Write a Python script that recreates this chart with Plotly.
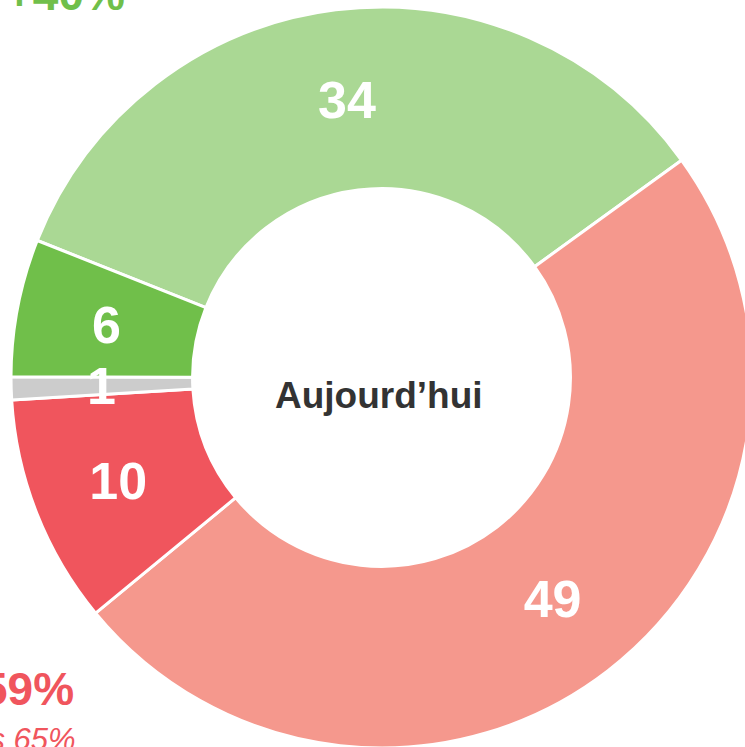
import math
import plotly.graph_objects as go

# Data
categories = ["Vert clair", "Rouge clair", "Rouge", "Gris", "Vert"]
values = [34, 49, 10, 1, 6]
colors = ["#aad894", "#f5988d", "#f0555d", "#cccccc", "#70bf4a"]
center_label = "Aujourd\u2019hui"
top_label = "+40%"
bottom_label = "59%"
bottom_sub_label = "vs 65%"

ROTATION = -68.3
HOLE = 0.51
FONT = "Liberation Sans, Arial, sans-serif"

# Figure slightly larger than the window (page overflow hidden), so the donut can run off the edges
W, H = 752, 748
ML, MT = 11, 7
PW, PH = W - ML, H - MT


def px(x):
    return (x - ML) / PW


def py(y):
    return 1 - (y - MT) / PH


# labels of the thin slices: middle of their arc, mid-ring (same rule the pie uses for wide slices)
R = min(PW, PH) / 2
CX, CY = ML + PW / 2, MT + PH / 2
total = sum(values)
thin = [3, 4]
slice_annotations = []
for i in thin:
    start = sum(values[:i]) / total * 360 + ROTATION
    mid = math.radians(start + values[i] / total * 360 / 2)
    rmid = R * (1 + HOLE) / 2
    slice_annotations.append(dict(
        text=str(values[i]), x=px(CX + rmid * math.sin(mid)), y=py(CY - rmid * math.cos(mid)),
        xref="paper", yref="paper", showarrow=False, xanchor="center", yanchor="middle",
        font=dict(family=FONT, size=52, color="white", weight="bold")))

textpos = ["none" if i in thin else "inside" for i in range(len(values))]

fig = go.Figure(
    go.Pie(
        labels=categories,
        values=values,
        text=[str(v) for v in values],
        textinfo="text",
        textposition=textpos,
        insidetextorientation="horizontal",
        textfont=dict(family=FONT, size=52, color="white", weight="bold"),
        marker=dict(colors=colors, line=dict(color="white", width=3)),
        hole=HOLE,
        sort=False,
        direction="clockwise",
        rotation=ROTATION,
        showlegend=False,
        hoverinfo="label+value",
    )
)

fig.update_layout(
    width=W,
    height=H,
    margin=dict(l=ML, r=0, t=MT, b=0),
    paper_bgcolor="white",
    plot_bgcolor="white",
    uniformtext=dict(mode="show", minsize=52),
    annotations=[
        dict(text=center_label, x=px(378.5), y=py(396), xref="paper", yref="paper",
             showarrow=False, xanchor="center", yanchor="middle",
             font=dict(family=FONT, size=37, color="#333333", weight="bold")),
        dict(text=top_label, x=px(127), y=py(-6), xref="paper", yref="paper",
             showarrow=False, xanchor="right", yanchor="middle",
             font=dict(family=FONT, size=46, color="#70bf4a", weight="bold")),
        dict(text=bottom_label, x=px(76), y=py(689), xref="paper", yref="paper",
             showarrow=False, xanchor="right", yanchor="middle",
             font=dict(family=FONT, size=46, color="#f0555d", weight="bold")),
        dict(text=bottom_sub_label, x=px(78), y=py(739), xref="paper", yref="paper",
             showarrow=False, xanchor="right", yanchor="middle",
             font=dict(family=FONT, size=31, color="#f0555d", style="italic")),
    ] + slice_annotations,
)

fig.write_html(
    "out.html",
    config={"displayModeBar": False},
    post_script="document.body.style.margin='0';document.body.style.overflow='hidden';",
)
